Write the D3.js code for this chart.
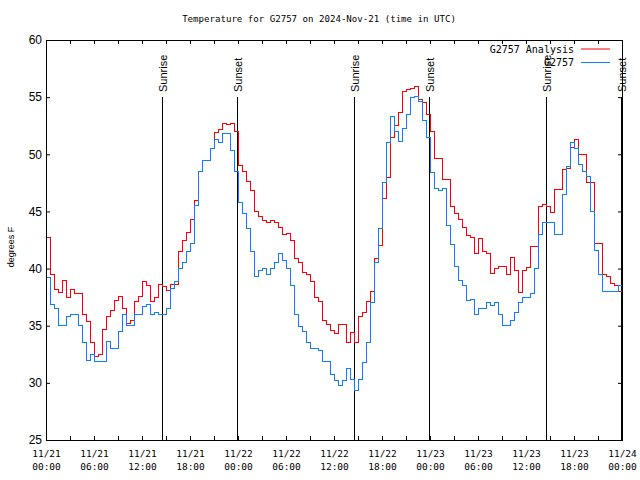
<!DOCTYPE html>
<html>
<head>
<meta charset="utf-8">
<script src="https://cdn.jsdelivr.net/npm/d3@7"></script>
<style>
  body { margin: 0; background: #fff; }
  svg { display: block; }
  .mono { font-family: "DejaVu Sans Mono", monospace; }
  .sans { font-family: "Liberation Sans", Arial, sans-serif; }
</style>
</head>
<body>
<svg id="chart" width="640" height="480"></svg>
<script>
// half-hourly readings starting 2024-11-21 00:00 UTC
const startTime = new Date(Date.UTC(2024, 10, 21));
const stepMinutes = 30;

const analysisTemps = [
  42.7, 39.5, 38.2, 37.9, 39.0, 37.5, 38.2, 37.8, 37.8, 36.0,
  35.4, 33.5, 32.3, 32.5, 34.7, 35.8, 36.3, 37.2, 37.6, 36.5,
  35.2, 35.5, 37.1, 37.6, 38.9, 38.5, 37.1, 37.5, 38.6, 38.4,
  38.1, 38.6, 38.6, 41.5, 42.5, 43.2, 44.3, 46.0, 48.5, 49.5,
  49.5, 50.5, 51.9, 52.2, 52.7, 52.6, 52.7, 52.0, 49.0, 48.5,
  47.6, 46.8, 45.0, 44.6, 44.2, 44.0, 44.2, 44.0, 43.6, 43.0,
  43.1, 42.5, 40.9, 40.5, 39.7, 39.5, 38.9, 37.5, 37.1, 35.5,
  35.1, 34.6, 34.3, 35.1, 35.1, 33.5, 34.4, 33.5, 35.8, 36.2,
  37.1, 38.0, 40.9, 42.0, 46.1, 48.0, 51.5, 52.5, 53.7, 55.5,
  55.7, 55.8, 55.9, 54.8, 54.5, 53.5, 52.0, 49.6, 49.6, 47.8,
  47.8, 45.4, 44.8, 44.3, 43.6, 42.9, 42.7, 41.3, 42.6, 41.5,
  41.3, 39.6, 40.0, 40.2, 40.2, 39.5, 41.0, 39.8, 37.9, 39.8,
  40.1, 41.9, 41.9, 45.4, 45.6, 45.4, 44.9, 46.9, 46.9, 48.7,
  48.8, 50.6, 51.3, 50.0, 50.0, 47.5, 47.5, 42.2, 42.2, 39.5,
  39.3, 38.7, 38.5, 38.0, 38.0
];

const stationTemps = [
  39.2, 36.9, 36.5, 35.0, 35.0, 35.8, 36.0, 36.0, 35.0, 33.5,
  32.0, 32.5, 31.9, 31.9, 31.9, 33.6, 33.0, 33.0, 34.5, 36.0,
  35.0, 35.0, 36.0, 36.0, 36.7, 36.9, 36.0, 36.2, 36.0, 36.0,
  36.5, 38.3, 38.9, 40.0, 40.5, 41.5, 42.2, 45.5, 48.5, 49.5,
  49.5, 50.5, 51.3, 51.0, 51.8, 51.8, 50.3, 48.5, 45.8, 44.8,
  43.5, 41.5, 39.3, 39.8, 40.0, 39.5, 40.0, 40.5, 41.3, 40.7,
  40.0, 38.5, 36.0, 34.9, 34.5, 33.5, 33.0, 33.0, 32.8, 31.9,
  31.9, 30.7, 30.2, 29.8, 30.2, 31.3, 30.3, 29.3, 30.3, 31.8,
  33.5, 37.0, 40.5, 43.5, 47.5, 51.0, 53.3, 52.0, 51.1, 52.3,
  53.5, 55.0, 55.1, 54.6, 53.0, 51.5, 48.4, 47.0, 46.8, 47.0,
  43.8, 42.1, 40.2, 39.0, 38.5, 37.2, 37.3, 36.0, 36.5, 36.5,
  37.0, 36.8, 37.0, 36.0, 35.0, 35.0, 35.5, 36.2, 37.0, 37.5,
  37.5, 37.8, 40.0, 43.0, 44.0, 44.0, 44.0, 43.0, 43.0, 46.5,
  48.9, 51.0, 50.5, 49.1, 48.5, 48.1, 45.0, 41.6, 39.5, 38.0,
  38.0, 38.0, 38.0, 38.5, 39.0
];

const sunTimes = [
  "2024-11-21T14:30Z", "2024-11-21T23:53Z",
  "2024-11-22T14:31Z", "2024-11-22T23:53Z",
  "2024-11-23T14:32Z", "2024-11-23T23:53Z"
];
const sunLabels = ["Sunrise", "Sunset", "Sunrise", "Sunset", "Sunrise", "Sunset"];

const seriesNames = ["G2757 Analysis", "G2757"];
const yTicks = [25, 30, 35, 40, 45, 50, 55, 60];
const yDomain = [25, 60];
const hoursShown = 72;

const colors = ["#ff0000", "#0a80ff"];

const svg = d3.select("#chart");
const margin = { top: 40, right: 18, bottom: 40, left: 46 };
const width = 640, height = 480;

const endTime = d3.utcHour.offset(startTime, hoursShown);
const x = d3.scaleUtc().domain([startTime, endTime]).range([margin.left, width - margin.right]);
const y = d3.scaleLinear().domain(yDomain).range([height - margin.bottom, margin.top]);

const timeAt = i => d3.utcMinute.offset(startTime, i * stepMinutes);
const fmtDay = d3.utcFormat("%m/%d");
const fmtHour = d3.utcFormat("%H:%M");

// title
svg.append("text")
    .attr("class", "mono")
    .attr("x", 319).attr("y", 19).attr("dy", "0.35em")
    .attr("text-anchor", "middle")
    .style("font-size", "9.1px")
    .text("Temperature for G2757 on 2024-Nov-21 (time in UTC)");

// y label
svg.append("text")
    .attr("class", "sans")
    .attr("transform", "translate(14,247) rotate(-90)")
    .attr("text-anchor", "middle")
    .style("font-size", "9px")
    .text("degrees F");

// sunrise / sunset markers
const sun = svg.append("g")
    .selectAll("g")
    .data(sunTimes.map((t, i) => ({ t: new Date(t), label: sunLabels[i] })))
    .enter()
    .append("g");

sun.append("line")
    .attr("x1", d => Math.round(x(d.t)) + 0.5).attr("x2", d => Math.round(x(d.t)) + 0.5)
    .attr("y1", 97).attr("y2", height - margin.bottom)
    .attr("stroke", "#000").attr("stroke-width", 1);

sun.append("text")
    .attr("class", "sans")
    .attr("transform", d => `translate(${Math.round(x(d.t)) + 4.5},92) rotate(-90)`)
    .style("font-size", "11px")
    .text(d => d.label);

// series
const line = d3.line()
    .x((d, i) => x(timeAt(i)))
    .y(d => y(d))
    .curve(d3.curveStepAfter);

[analysisTemps, stationTemps].forEach((values, k) => {
    svg.append("path")
        .datum(values)
        .attr("d", line)
        .attr("fill", "none")
        .attr("stroke", colors[k])
        .attr("stroke-width", 1)
        .attr("shape-rendering", "crispEdges");
});

// axes
const noDomain = g => g.select(".domain").remove();

svg.append("g")
    .attr("transform", `translate(0,${height - margin.bottom})`)
    .call(d3.axisBottom(x).ticks(d3.utcHour.every(3)).tickSize(-4).tickPadding(10))
    .call(noDomain)
    .call(g => g.selectAll("text").each(function(d) {
        const t = d3.select(this).text(null);
        if (d.getUTCHours() % 6) return;
        t.append("tspan").attr("x", 0).text(fmtDay(d));
        t.append("tspan").attr("x", 0).attr("dy", "1.4em").text(fmtHour(d));
    }))
    .call(g => g.selectAll("text").attr("class", "mono").style("font-size", "9.5px").attr("fill", "#000"));

svg.append("g")
    .attr("transform", `translate(0,${margin.top})`)
    .call(d3.axisTop(x).ticks(d3.utcHour.every(3)).tickSize(-4).tickFormat(""))
    .call(noDomain);

svg.append("g")
    .attr("transform", `translate(${margin.left},0)`)
    .call(d3.axisLeft(y).tickValues(yTicks).tickSize(-4).tickPadding(4))
    .call(noDomain)
    .call(g => g.selectAll("text").attr("class", "sans").style("font-size", "12px").attr("fill", "#000"));

svg.append("g")
    .attr("transform", `translate(${width - margin.right},0)`)
    .call(d3.axisRight(y).tickValues(yTicks).tickSize(-4).tickFormat(""))
    .call(noDomain);

svg.selectAll(".tick line").attr("stroke", "#000");

svg.append("rect")
    .attr("x", margin.left + 0.5).attr("y", margin.top + 0.5)
    .attr("width", width - margin.left - margin.right)
    .attr("height", height - margin.top - margin.bottom)
    .attr("fill", "none").attr("stroke", "#000");

// legend
const legend = svg.append("g")
    .selectAll("g")
    .data(seriesNames)
    .enter()
    .append("g")
    .attr("transform", (d, i) => `translate(0,${49 + i * 13.5})`);

legend.append("text")
    .attr("class", "mono")
    .attr("x", 574).attr("dy", "0.35em")
    .attr("text-anchor", "end")
    .style("font-size", "10px")
    .text(d => d);

legend.append("line")
    .attr("x1", 581).attr("x2", 610)
    .attr("stroke", (d, i) => colors[i])
    .attr("stroke-width", 1);
</script>
</body>
</html>
